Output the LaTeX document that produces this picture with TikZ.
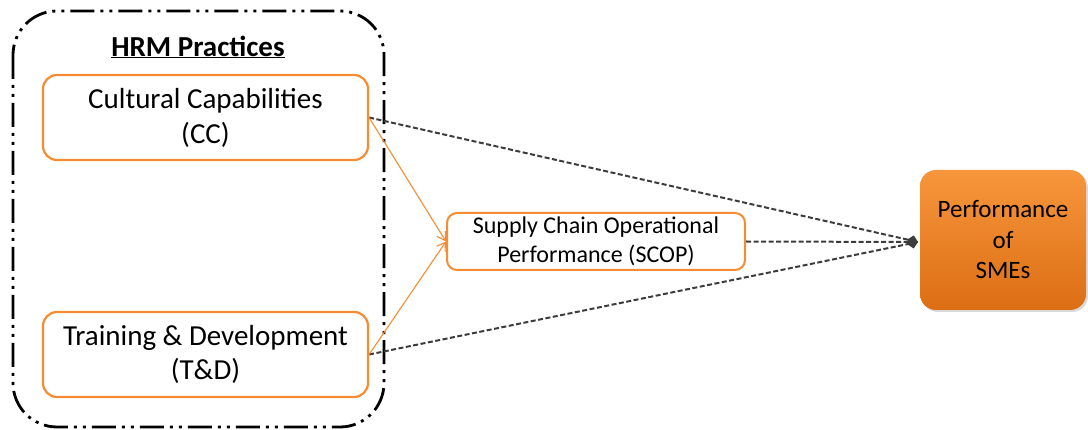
\documentclass[tikz,border=0pt]{standalone}
\usepackage{fontspec}
\setmainfont{Carlito}
\usetikzlibrary{arrows.meta,shadows}
\definecolor{orng}{RGB}{245,140,50}
\definecolor{orngtop}{RGB}{247,150,60}
\definecolor{orngbot}{RGB}{220,110,20}
\definecolor{dline}{RGB}{60,60,60}
\tikzset{
  inbox/.style={draw=orng, line width=2.2pt, rounded corners=14pt, fill=white, align=center, inner sep=0pt},
  outcome/.style={rounded corners=16pt, top color=orngtop, bottom color=orngbot, draw=none, align=center, inner sep=0pt, drop shadow={shadow xshift=2pt, shadow yshift=-2pt, opacity=0.3}},
  dconn/.style={draw=dline, line width=2pt, dash pattern=on 5pt off 2.5pt, -{Diamond[length=11pt,width=11pt]}},
  oconn/.style={draw=orng, line width=1.1pt, -{Straight Barb[length=8pt,width=10pt]}},
  group/.style={draw=black, line width=2.8pt, rounded corners=44pt, dash pattern=on 24pt off 6pt on 3pt off 6pt on 3pt off 6pt}
}
\begin{document}
\begin{tikzpicture}[x=1pt,y=-1pt]
\useasboundingbox (0,0) rectangle (1088,430);
\draw[group] (13,11) rectangle (384,427);
\node[font=\fontsize{29}{32}\selectfont\bfseries] (hrm) at (198,47) {\underline{HRM Practices}};
\node[inbox, minimum width=325pt, minimum height=85pt, font=\fontsize{29}{35}\selectfont] (cc) at (205.5,117.5) {Cultural Capabilities\\(CC)};
\node[inbox, minimum width=325pt, minimum height=85pt, font=\fontsize{29}{34}\selectfont] (td) at (205.5,354.5) {Training \& Development\\(T\&D)};
\node[inbox, minimum width=298pt, minimum height=57pt, line width=2pt, rounded corners=10pt, font=\fontsize{24}{29}\selectfont] (scop) at (596,241.5) {Supply Chain Operational\\Performance (SCOP)};
\node[outcome, minimum width=166pt, minimum height=140pt, font=\fontsize{25}{30.5}\selectfont] (sme) at (1003,240) {Performance\\of\\SMEs};
\coordinate (tip) at (918,242);
\draw[dconn] (cc.east) -- (tip);
\draw[dconn] (td.east) -- (tip);
\draw[dconn] (scop.east) -- (tip);
\draw[oconn] (cc.east) -- (scop.west);
\draw[oconn] (td.east) -- (scop.west);
\end{tikzpicture}
\end{document}
